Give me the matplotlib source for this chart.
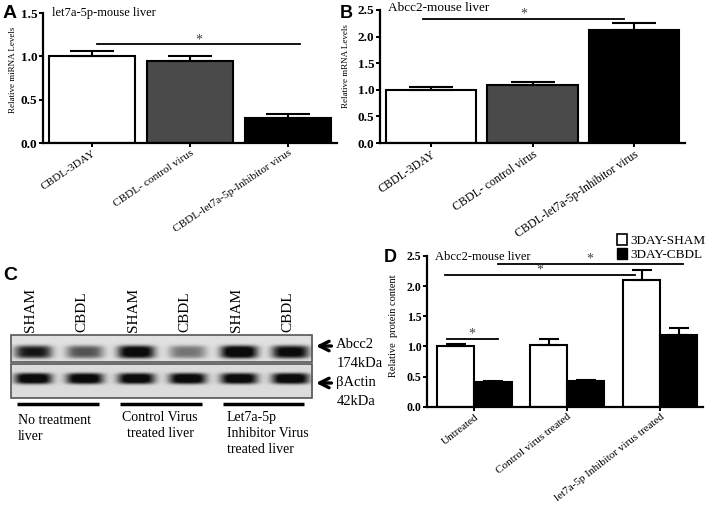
import numpy as np
import matplotlib
matplotlib.use("Agg")
import matplotlib.pyplot as plt
from matplotlib.patches import Rectangle, Patch

plt.rcParams['font.family'] = ['Liberation Serif', 'DejaVu Serif']

# ---- data ----
ab_groups = ["CBDL-3DAY", "CBDL- control virus", "CBDL-let7a-5p-Inhibitor virus"]
bar_cols = ["white", "#4a4a4a", "black"]
a_vals = [1.0, 0.95, 0.29]
a_err = [0.06, 0.05, 0.04]
b_vals = [0.99, 1.085, 2.13]
b_err = [0.06, 0.06, 0.13]

d_groups = ["Untreated", "Control virus treated", "let7a-5p Inhibitor virus treated"]
d_sham = [1.0, 1.03, 2.11]
d_sham_err = [0.035, 0.09, 0.16]
d_cbdl = [0.415, 0.43, 1.19]
d_cbdl_err = [0.015, 0.01, 0.115]

# significance lines (x0, x1, y)
a_sig = [(0.05, 2.12, 1.14)]
b_sig = [(-0.08, 1.9, 2.34)]
d_sig = [(-0.32, 1.73, 2.19), (0.25, 2.24, 2.37), (-0.30, 0.25, 1.13)]

# western blot
lane_names = ["SHAM", "CBDL", "SHAM", "CBDL", "SHAM", "CBDL"]
abcc2_band = [0.8, 0.55, 0.95, 0.42, 1.0, 0.9]
actin_band = [1.0, 0.98, 0.97, 0.98, 0.97, 1.0]
c_groups = ["No treatment\nliver", "Control Virus\ntreated liver", "Let7a-5p\nInhibitor Virus\ntreated liver"]

fig = plt.figure(figsize=(7.09, 5.08), dpi=100)
W, H = 709.0, 508.0


def style(ax, ymax, ticksize):
    ax.spines['top'].set_visible(False)
    ax.spines['right'].set_visible(False)
    ax.spines['left'].set_linewidth(1.6)
    ax.spines['bottom'].set_linewidth(1.6)
    ax.set_ylim(0, ymax)
    ax.set_yticks(np.arange(0, ymax + 0.01, 0.5))
    ax.set_yticklabels(["%.1f" % v for v in np.arange(0, ymax + 0.01, 0.5)])
    ax.tick_params(direction='out', length=3, width=1.4, labelsize=ticksize, pad=1)
    for t in ax.get_yticklabels():
        t.set_fontweight('bold')


def sig_lines(ax, sigs):
    for x0, x1, y in sigs:
        ax.plot([x0, x1], [y, y], color='black', lw=1.3, clip_on=False)
        ax.text((x0 + x1) / 2, y - 0.03, "*", ha='center', va='bottom', fontsize=10, color='#444444')


# ---- panel A ----
axa = fig.add_axes([43 / W, 1 - 143 / H, 294 / W, 130 / H])
x = np.arange(3)
axa.bar(x, a_vals, width=0.87, color=bar_cols, edgecolor='black', lw=1.5, zorder=2)
axa.errorbar(x, a_vals, yerr=[np.zeros(3), a_err], fmt='none', ecolor='black',
             elinewidth=1.5, capsize=16, capthick=1.5, zorder=3)
axa.set_xlim(-0.5, 2.5)
style(axa, 1.5, 9.5)
axa.set_xticks(x)
axa.set_xticklabels(ab_groups, rotation=34, ha='right', rotation_mode='anchor', fontsize=8.2)
axa.set_ylabel("Relative miRNA Levels", fontsize=6.5)
axa.yaxis.set_label_coords(-0.088, 0.56)
axa.text(0.03, 1.0, "let7a-5p-mouse liver", transform=axa.transAxes, fontsize=9, va='center')
sig_lines(axa, a_sig)

# ---- panel B ----
axb = fig.add_axes([380 / W, 1 - 143 / H, 305 / W, 133 / H])
axb.bar(x, b_vals, width=0.89, color=bar_cols, edgecolor='black', lw=1.5, zorder=2)
axb.errorbar(x, b_vals, yerr=[np.zeros(3), b_err], fmt='none', ecolor='black',
             elinewidth=1.5, capsize=16, capthick=1.5, zorder=3)
axb.set_xlim(-0.5, 2.5)
style(axb, 2.5, 9.5)
axb.set_xticks(x)
axb.set_xticklabels(ab_groups, rotation=34, ha='right', rotation_mode='anchor', fontsize=8.5)
axb.set_ylabel("Relative mRNA Levels", fontsize=6.5)
axb.yaxis.set_label_coords(-0.10, 0.58)
axb.text(0.026, 1.015, "Abcc2-mouse liver", transform=axb.transAxes, fontsize=9.5, va='center')
sig_lines(axb, b_sig)

# ---- panel D ----
axd = fig.add_axes([427 / W, 1 - 406.7 / H, 276 / W, 150.7 / H])
axd.bar(x - 0.2, d_sham, width=0.4, color='white', edgecolor='black', lw=1.5, zorder=2)
axd.bar(x + 0.2, d_cbdl, width=0.4, color='black', edgecolor='black', lw=1.5, zorder=2)
axd.errorbar(x - 0.2, d_sham, yerr=[np.zeros(3), d_sham_err], fmt='none', ecolor='black',
             elinewidth=1.5, capsize=7, capthick=1.5, zorder=3)
axd.errorbar(x + 0.2, d_cbdl, yerr=[np.zeros(3), d_cbdl_err], fmt='none', ecolor='black',
             elinewidth=1.5, capsize=7, capthick=1.5, zorder=3)
axd.set_xlim(-0.51, 2.46)
style(axd, 2.5, 8.5)
axd.set_xticks(x)
axd.set_xticklabels(d_groups, rotation=38, ha='right', rotation_mode='anchor', fontsize=8)
axd.set_ylabel("Relative  protein content", fontsize=7.5)
axd.yaxis.set_label_coords(-0.105, 0.54)
axd.text(0.03, 0.993, "Abcc2-mouse liver", transform=axd.transAxes, fontsize=9, va='center')
sig_lines(axd, d_sig)
fig.legend([Patch(facecolor='white', edgecolor='black', lw=1.2), Patch(facecolor='black', edgecolor='black')],
           ["3DAY-SHAM", "3DAY-CBDL"], loc='upper left', bbox_to_anchor=(617 / W, 1 - 234 / H),
           frameon=False, fontsize=9.5, handlelength=0.75, handleheight=0.9, handletextpad=0.3,
           labelspacing=0.05, borderaxespad=0, borderpad=0)

# ---- panel C (blot) ----
axc = fig.add_axes([0, 0, 395 / W, 246 / H])
axc.axis('off')


def blot(ax, y0, y1, vals, yc, sig, bg):
    xs = np.linspace(-0.43, 5.43, 400)
    ys = np.linspace(y0, y1, 80)
    X, Y = np.meshgrid(xs, ys)
    dark = np.zeros(X.shape)
    for i, v in enumerate(vals):
        dark += v * np.exp(-((X - i) / 0.36) ** 4 - ((Y - yc) / sig) ** 4)
    img = bg * (1 - np.clip(dark * 1.15, 0, 0.95))
    ax.imshow(img, extent=(-0.43, 5.43, y1, y0), cmap='gray', vmin=0, vmax=1,
              aspect='auto', interpolation='bicubic')
    ax.add_patch(Rectangle((-0.43, y0), 5.86, y1 - y0, fill=False, ec='#555555', lw=1.2))


blot(axc, 335, 362, abcc2_band, 352, 6.5, 0.88)
blot(axc, 364, 398, actin_band, 378.5, 5.5, 0.86)
axc.set_xlim(-33 / 51.4, (395 - 33) / 51.4)
axc.set_ylim(508, 262)

for i, nm in enumerate(lane_names):
    axc.text(i - 0.04, 332, nm, rotation=90, ha='center', va='bottom', fontsize=11)

for yy in [346, 383]:
    axc.annotate('', xy=(5.45, yy), xytext=(5.86, yy),
                 arrowprops=dict(arrowstyle='->', lw=2.4, color='black', mutation_scale=17))
axc.text(5.9, 345, "Abcc2", va='center', ha='left', fontsize=10.5)
axc.text(5.9, 364, "174kDa", va='center', ha='left', fontsize=10.5)
axc.text(5.9, 383, "\u03b2Actin", va='center', ha='left', fontsize=10.5)
axc.text(5.9, 402, "42kDa", va='center', ha='left', fontsize=10.5)

for g in range(3):
    axc.plot([2 * g - 0.31, 2 * g + 1.28], [404, 404], lw=2.5, color='black', solid_capstyle='butt')
axc.text(-0.29, 414, c_groups[0], ha='left', va='top', fontsize=10, linespacing=1.3)
axc.text(2.47, 411, c_groups[1], ha='center', va='top', fontsize=10, linespacing=1.3, multialignment='center')
axc.text(3.77, 411, c_groups[2], ha='left', va='top', fontsize=10, linespacing=1.3)

# panel letters
for lab, px, py, fs in [("A", 3, 13, 14), ("B", 340, 13, 13), ("C", 3, 275, 14), ("D", 384, 257, 13)]:
    fig.text(px / W, 1 - py / H, lab, fontsize=fs, fontweight='bold', family='Liberation Sans',
             va='center', ha='left')

fig.savefig("out.png", dpi=100)
